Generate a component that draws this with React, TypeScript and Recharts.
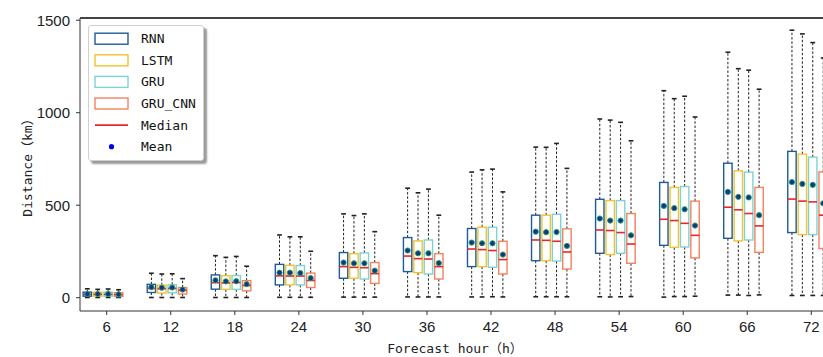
import React from "react";
import { ComposedChart, Bar, XAxis, YAxis, Legend } from "recharts";

const HOURS = [6, 12, 18, 24, 30, 36, 42, 48, 54, 60, 66, 72];
const Y_TICKS = [0, 500, 1000, 1500];
const MODELS = ["RNN", "LSTM", "GRU", "GRU_CNN"];
const COLORS = ["#1f5b98", "#f3c230", "#7fd2d2", "#f4825e"];

// one row per forecast hour: [whisker low, Q1, median, Q3, whisker high, mean] in km
const RNN_STATS = [
  [1, 8, 18, 30, 48, 20],
  [1, 28, 50, 72, 132, 57],
  [1, 46, 81, 123, 227, 94],
  [2, 69, 118, 180, 339, 135],
  [3, 105, 168, 244, 453, 190],
  [4, 141, 225, 325, 592, 255],
  [4, 168, 263, 374, 679, 298],
  [5, 200, 312, 446, 814, 357],
  [5, 240, 366, 532, 966, 428],
  [3, 283, 424, 623, 1119, 496],
  [14, 321, 489, 727, 1327, 572],
  [12, 352, 533, 791, 1446, 625],
];
const LSTM_STATS = [
  [1, 8, 18, 29, 45, 20],
  [1, 25, 49, 68, 128, 54],
  [1, 45, 80, 119, 218, 88],
  [2, 69, 117, 175, 329, 135],
  [3, 105, 164, 238, 444, 186],
  [4, 135, 211, 307, 567, 240],
  [4, 168, 260, 381, 691, 294],
  [5, 200, 310, 446, 813, 354],
  [4, 233, 363, 525, 960, 417],
  [6, 272, 417, 596, 1076, 484],
  [14, 307, 475, 686, 1238, 545],
  [12, 341, 522, 776, 1426, 615],
];
const GRU_STATS = [
  [1, 8, 18, 30, 47, 20],
  [1, 26, 50, 70, 129, 55],
  [1, 45, 82, 120, 223, 89],
  [2, 69, 117, 174, 329, 133],
  [3, 101, 162, 242, 453, 186],
  [4, 128, 209, 312, 587, 240],
  [5, 164, 255, 381, 695, 294],
  [5, 198, 305, 451, 834, 355],
  [5, 240, 352, 525, 948, 417],
  [6, 274, 402, 601, 1089, 478],
  [12, 312, 455, 679, 1230, 542],
  [12, 341, 518, 760, 1379, 610],
];
const GRU_CNN_STATS = [
  [1, 7, 16, 27, 43, 18],
  [1, 20, 40, 55, 103, 44],
  [1, 37, 66, 92, 170, 73],
  [2, 55, 93, 133, 251, 106],
  [3, 77, 130, 190, 357, 146],
  [4, 101, 168, 238, 446, 187],
  [4, 128, 206, 305, 572, 233],
  [5, 155, 247, 372, 699, 280],
  [6, 186, 290, 455, 848, 337],
  [8, 215, 337, 522, 977, 390],
  [15, 245, 388, 596, 1127, 446],
  [12, 266, 446, 680, 1296, 510],
];

const STATS = [RNN_STATS, LSTM_STATS, GRU_STATS, GRU_CNN_STATS];

const data = HOURS.map((hour, i) => {
  const row: any = { hour };
  MODELS.forEach((m, j) => {
    row[m] = STATS[j][i];
  });
  return row;
});

const Y_MAX = 1512;
const SANS = "'Liberation Sans', Arial, sans-serif";
const MONO = "'DejaVu Sans Mono', 'Noto Sans CJK SC', monospace";
const AXIS = "#333";
const MEDIAN = "#e8262b";

function makeBox(model: string, color: string) {
  return (props: any) => {
    const { x, y, width, height, payload } = props;
    const [lo, q1, med, q3, hi, mean] = payload[model];
    const top = Math.min(y, y + height);
    const bot = Math.max(y, y + height);
    const py = (v: number) => bot - ((v - lo) / (hi - lo)) * (bot - top);
    const cx = x + width / 2;
    const cap = 2.4;
    return (
      <g>
        <line x1={cx} x2={cx} y1={py(q3)} y2={py(hi)} stroke="#222" strokeWidth={1} strokeDasharray="2.5 1.8" />
        <line x1={cx} x2={cx} y1={py(q1)} y2={py(lo)} stroke="#222" strokeWidth={1} strokeDasharray="2.5 1.8" />
        <line x1={cx - cap} x2={cx + cap} y1={py(hi)} y2={py(hi)} stroke="#222" strokeWidth={1.6} />
        <line x1={cx - cap} x2={cx + cap} y1={py(lo)} y2={py(lo)} stroke="#222" strokeWidth={1.6} />
        <rect x={x} y={py(q3)} width={width} height={py(q1) - py(q3)} fill="none" stroke={color} strokeWidth={1.4} />
        <line x1={x} x2={x + width} y1={py(med)} y2={py(med)} stroke={MEDIAN} strokeWidth={1.6} />
        <circle cx={cx} cy={py(mean)} r={2.6} fill="#0b3596" stroke="#2a9d55" strokeWidth={1} />
      </g>
    );
  };
}

const LEGEND_ROWS = [...MODELS, "Median", "Mean"];

const renderLegend = () => (
  <div
    style={{
      width: 114,
      height: 134,
      background: "#fff",
      border: "1px solid #d0d0d0",
      borderRadius: 3,
      boxShadow: "3px 3px 2px rgba(0,0,0,0.4)",
    }}
  >
    <svg width={114} height={134} style={{ display: "block" }}>
      {LEGEND_ROWS.map((name, i) => {
        const cy = 12.7 + i * 21.6;
        let marker;
        if (i < MODELS.length) {
          marker = <rect x={6} y={cy - 5.5} width={33} height={11} fill="none" stroke={COLORS[i]} strokeWidth={1.4} />;
        } else if (name === "Median") {
          marker = <line x1={6} x2={39} y1={cy} y2={cy} stroke={MEDIAN} strokeWidth={1.6} />;
        } else {
          marker = <circle cx={22.5} cy={cy} r={2.6} fill="#0000ee" />;
        }
        return (
          <g key={name}>
            {marker}
            <text x={52} y={cy} dy="0.35em" fontFamily={MONO} fontSize={13} fill="#111">
              {name}
            </text>
          </g>
        );
      })}
    </svg>
  </div>
);

export default function App() {
  return (
    <div style={{ position: "fixed", left: 0, top: 0, width: 823, height: 357, overflow: "hidden", background: "#fff" }}>
      <ComposedChart width={843} height={357} data={data} margin={{ top: 18, right: 5, bottom: 0, left: 0 }} barGap={2}>
        <XAxis
          xAxisId="box"
          dataKey="hour"
          type="number"
          domain={[3.83, 74.83]}
          allowDataOverflow
          ticks={HOURS}
          height={0}
          hide
        />
        <XAxis
          xAxisId="hours"
          dataKey="hour"
          type="number"
          domain={[3.5, 74.5]}
          allowDataOverflow
          ticks={HOURS}
          interval={0}
          height={46}
          tickSize={4}
          tickMargin={6}
          tick={{ fontSize: 15, fontFamily: SANS, fill: "#222" }}
          axisLine={{ stroke: AXIS }}
          tickLine={{ stroke: AXIS }}
          label={{
            value: "Forecast hour（h）",
            position: "insideBottom",
            offset: 4,
            dx: -4,
            style: { fontFamily: MONO, fontSize: 13, fill: "#222" },
          }}
        />
        <YAxis
          type="number"
          domain={[-72, Y_MAX]}
          allowDataOverflow
          ticks={Y_TICKS}
          width={80}
          tickSize={4}
          tickMargin={6}
          tick={{ fontSize: 15, fontFamily: SANS, fill: "#222" }}
          axisLine={{ stroke: AXIS }}
          tickLine={{ stroke: AXIS }}
          label={{
            value: "Distance（km）",
            angle: -90,
            position: "insideLeft",
            offset: 27,
            style: { textAnchor: "middle", fontFamily: MONO, fontSize: 13, fill: "#222" },
          }}
        />
        <Legend
          layout="vertical"
          align="center"
          verticalAlign="middle"
          content={renderLegend}
          wrapperStyle={{ left: 88, top: 25, width: 116 }}
        />
        {MODELS.map((m, i) => (
          <Bar
            key={m}
            xAxisId="box"
            dataKey={(d: any) => [d[m][0], d[m][4]]}
            barSize={8.4}
            shape={makeBox(m, COLORS[i])}
            isAnimationActive={false}
          />
        ))}
      </ComposedChart>
      {/* top spine of the axes frame */}
      <div style={{ position: "absolute", left: 80, top: 17, width: 760, height: 2, background: "#444", zIndex: 5 }} />
    </div>
  );
}
